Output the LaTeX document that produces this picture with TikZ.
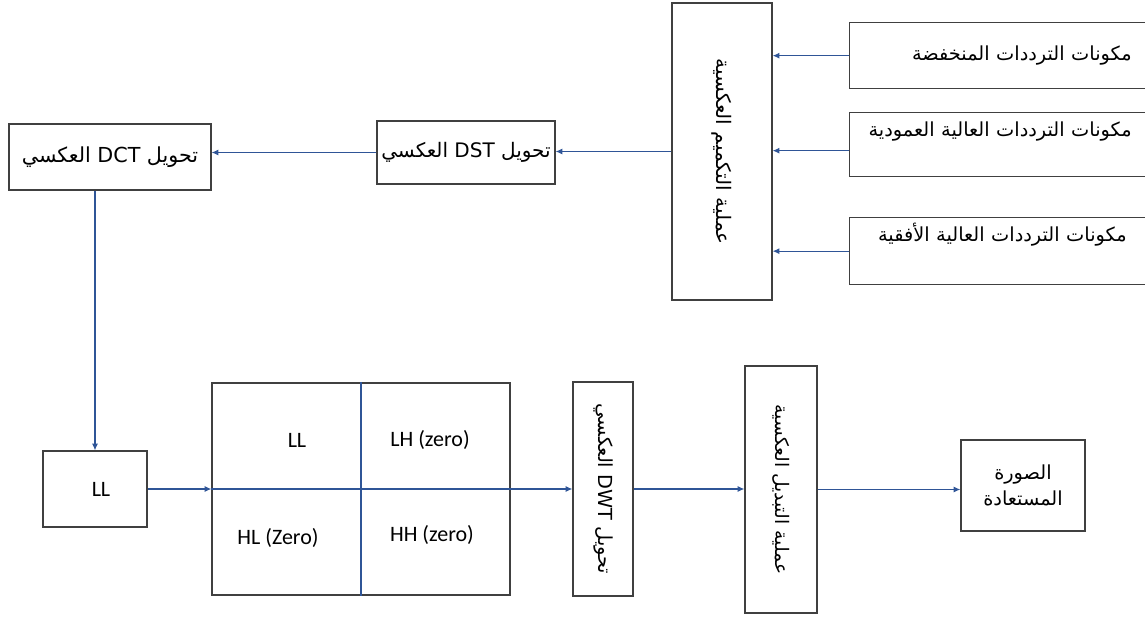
\documentclass[tikz,border=0pt]{standalone}
\usepackage{fontspec}
\setmainfont{Carlito}
\newfontfamily\arabicfont[Script=Arabic]{DejaVu Sans}
\TeXXeTstate=1
\usetikzlibrary{arrows.meta}
\definecolor{LinkBlue}{HTML}{2F5597}
\definecolor{FrameDark}{HTML}{404040}
\newdimen\px \px=0.75pt
\newcommand{\artext}[1]{{\arabicfont\beginR #1\endR}}

\begin{document}
\begin{tikzpicture}[
  x=0.75pt, y=-0.75pt,
  box/.style={draw=FrameDark, line width=1pt, inner sep=0pt, align=center, font=\fontsize{14.5}{20}\selectfont},
  vbox/.style={box, rotate=-90},
  band/.style={box, anchor=north west, minimum width=303\px, text width=281\px, align=right, inner xsep=11\px, inner ysep=0pt, font=\fontsize{14.5}{17}\selectfont},
  link/.style={draw=LinkBlue, line width=0.8pt},
  arrow/.style={link, -{Latex[length=5pt,width=4.5pt]}},
  cell/.style={font=\fontsize{16.5}{19}\selectfont}
]
  \useasboundingbox (0,0) rectangle (1145,617);

  % frequency components
  \node[band, minimum height=66\px] (lowf) at (849,22) {\artext{مكونات الترددات المنخفضة}\rule{10\px}{0pt}};
  \node[band, text height=24\px, text depth=40\px] (vert) at (849,112) {\artext{مكونات الترددات العالية العمودية}\rule{10\px}{0pt}};
  \node[band, text height=24\px, text depth=43\px] (horz) at (849,217) {\artext{مكونات الترددات العالية الأفقية}\rule{15\px}{0pt}};

  % upper chain
  \node[vbox, minimum width=297\px, minimum height=100\px, font=\fontsize{15}{18}\selectfont] (quant) at (722,151.5) {\artext{عملية التكميم العكسية}};
  \node[box, minimum width=178\px, minimum height=63\px, font=\fontsize{15}{18}\selectfont] (dst) at (466,152.5) {\artext{تحويل \beginL DST\endL{} العكسي}};
  \node[box, minimum width=202\px, minimum height=66\px, font=\fontsize{15.5}{19}\selectfont] (dct) at (110,157) {\artext{تحويل \beginL DCT\endL{} العكسي}};

  % lower chain
  \node[box, minimum width=104\px, minimum height=76\px, font=\fontsize{16.5}{19}\selectfont] (ll) at (95,489) {\hspace*{12\px}LL};
  \node[box, minimum width=298\px, minimum height=212\px] (grid) at (361,489) {};
  \node[cell] (cellLL) at (297,440) {LL};
  \node[cell] (cellLH) at (430,440) {LH (zero)};
  \node[cell] (cellHL) at (278,538) {HL (Zero)};
  \node[cell] (cellHH) at (432,535) {HH (zero)};
  \node[vbox, minimum width=214\px, minimum height=60\px] (dwt) at (603,489) {\artext{تحويل \beginL DWT\endL{} العكسي}};
  \node[vbox, minimum width=247\px, minimum height=72\px, font=\fontsize{14}{18}\selectfont] (trans) at (781,489.5) {\artext{عملية التبديل العكسية}};
  \node[box, minimum width=124\px, minimum height=91\px] (restored) at (1023,485.5) {\artext{الصورة}\\\artext{المستعادة}};

  % connectors
  \draw[arrow] (lowf.west) -- (lowf.west -| quant.north);
  \draw[arrow] ([yshift=-4.5pt]vert.west) -- ([yshift=-4.5pt]vert.west -| quant.north);
  \draw[arrow] (horz.west) -- (horz.west -| quant.north);
  \draw[arrow] (quant.south) -- (quant.south -| dst.east);
  \draw[arrow] (dst.west) -- (dst.west -| dct.east);
  \draw[arrow] (ll.north |- dct.south) -- (ll.north);
  \draw[arrow] (ll.east) -- (ll.east -| grid.west);
  \draw[link] (grid.north) -- (grid.south);
  \draw[link] (grid.west) -- (grid.east);
  \draw[arrow] (grid.east) -- (grid.east -| dwt.south);
  \draw[arrow] (dwt.north) -- (dwt.north -| trans.south);
  \draw[arrow] (trans.north) -- (trans.north -| restored.west);
\end{tikzpicture}
\end{document}
